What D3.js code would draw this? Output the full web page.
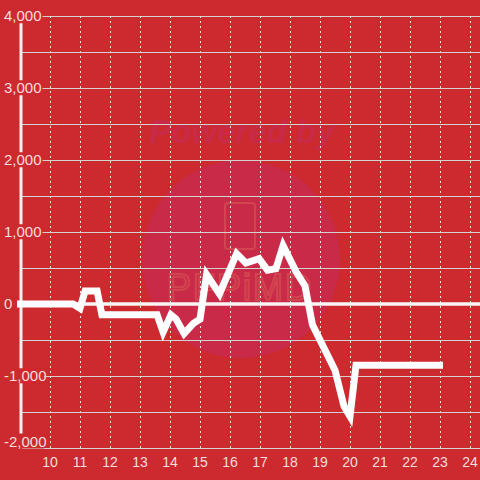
<!DOCTYPE html>
<html>
<head>
<meta charset="utf-8">
<script src="https://cdn.jsdelivr.net/npm/d3@7"></script>
<style>
  body { margin: 0; background: #cc2a2f; }
  svg { display: block; }
  text { font-family: "Liberation Sans", Arial, sans-serif; }
</style>
</head>
<body>
<script>
// Chart data
var xValues = [8.9, 10.77, 11.0, 11.17, 11.57, 11.73, 13.57, 13.77, 14.03, 14.2, 14.47, 14.78, 15.0, 15.22, 15.65,
  16.22, 16.53, 16.97, 17.25, 17.53, 17.77, 18.2, 18.5, 18.75, 19.5, 19.8, 20.0, 20.2, 23.1]
var yValues = [0, 0, -60, 180, 180, -150, -150, -390, -150, -210, -410, -270, -210, 410, 140,
  700, 570, 630, 470, 490, 810, 450, 250, -290, -920, -1420, -1560, -850, -850]
var xTicks = [10, 11, 12, 13, 14, 15, 16, 17, 18, 19, 20, 21, 22, 23, 24]
var yTicks = [-2000, -1000, 0, 1000, 2000, 3000, 4000]
var yGrid = [-2000, -1500, -1000, -500, 500, 1000, 1500, 2000, 2500, 3000, 3500, 4000]

var W = 480, H = 480
var bg = "#cc2a2f"
var labelColor = "#f6dede"

var x = d3.scaleLinear().domain([10, 24]).range([50, 470])
var y = d3.scaleLinear().domain([-2000, 4000]).range([448, 16])

var svg = d3.select("body").append("svg")
  .attr("width", W)
  .attr("height", H)

svg.append("rect").attr("width", W).attr("height", H).attr("fill", bg)

// watermark
svg.append("circle")
  .attr("cx", 241).attr("cy", 259).attr("r", 99)
  .attr("fill", "#c92a48")
svg.append("text")
  .attr("x", 242).attr("y", 143)
  .attr("text-anchor", "middle")
  .attr("font-size", 33)
  .attr("font-weight", "bold")
  .attr("font-style", "italic")
  .attr("fill", "#c92a48")
  .text("Powered by")
svg.append("rect")
  .attr("x", 225).attr("y", 203).attr("width", 30).attr("height", 46)
  .attr("rx", 3)
  .attr("fill", "none").attr("stroke", "#d2444f").attr("stroke-width", 2)
svg.append("text")
  .attr("x", 240).attr("y", 300)
  .attr("text-anchor", "middle")
  .attr("font-size", 36)
  .attr("font-family", "DejaVu Sans Mono")
  .attr("letter-spacing", 2)
  .attr("fill", "none").attr("stroke", "#d2444f").attr("stroke-width", 2)
  .text("PFPiMD")

// horizontal grid
svg.selectAll(".hgrid")
  .data(yGrid)
  .enter().append("line")
  .attr("class", "hgrid")
  .attr("x1", 22).attr("x2", W)
  .attr("y1", function(d) { return y(d) + 0.5 })
  .attr("y2", function(d) { return y(d) + 0.5 })
  .attr("stroke", "#d6d0d0")
  .attr("stroke-width", 1)

// vertical dashed grid
svg.selectAll(".vgrid")
  .data(xTicks)
  .enter().append("line")
  .attr("class", "vgrid")
  .attr("x1", function(d) { return x(d) + 0.5 })
  .attr("x2", function(d) { return x(d) + 0.5 })
  .attr("y1", 16).attr("y2", 448)
  .attr("stroke", "#f0e0e0")
  .attr("stroke-dasharray", "2,3")

// x axis line
svg.append("line")
  .attr("x1", 45).attr("x2", W)
  .attr("y1", 448.5).attr("y2", 448.5)
  .attr("stroke", "#d6d0d0")

// y axis line
svg.append("line")
  .attr("x1", 21).attr("x2", 21)
  .attr("y1", 16).attr("y2", 448)
  .attr("stroke", "#f4f0f0")
  .attr("stroke-width", 3)

// zero line
svg.append("line")
  .attr("x1", 17).attr("x2", W)
  .attr("y1", y(0)).attr("y2", y(0))
  .attr("stroke", "#fbf6f6")
  .attr("stroke-width", 3.5)

// y tick labels with background to cut the axis line
var yl = svg.selectAll(".ylab")
  .data(yTicks)
  .enter().append("g")
  .attr("class", "ylab")
  .attr("transform", function(d) { return "translate(4," + y(d) + ")" })
yl.append("text")
  .attr("dy", function(d) { return d == -2000 ? "-0.1em" : "0.35em" })
  .attr("font-size", 15)
  .attr("fill", labelColor)
  .text(function(d) { return d3.format(",")(d).replace("−", "-") })
yl.each(function(d) {
  var g = d3.select(this)
  var b = g.select("text").node().getBBox()
  g.insert("rect", "text")
    .attr("x", b.x - 1).attr("y", b.y + 1)
    .attr("width", b.width + 2).attr("height", b.height - 2)
    .attr("fill", bg)
  if (d != 0) {
    g.append("line")
      .attr("x1", 40).attr("x2", 45)
      .attr("y1", 0.5).attr("y2", 0.5)
      .attr("stroke", "#d6d0d0")
  }
})

// x tick labels
svg.selectAll(".xlab")
  .data(xTicks)
  .enter().append("text")
  .attr("class", "xlab")
  .attr("x", function(d) { return x(d) })
  .attr("y", 467)
  .attr("text-anchor", "middle")
  .attr("font-size", 14)
  .attr("fill", labelColor)
  .text(function(d) { return d })

// data line
var line = d3.line()
  .x(function(d) { return x(d[0]) })
  .y(function(d) { return y(d[1]) })
svg.append("path")
  .datum(d3.zip(xValues, yValues))
  .attr("d", line)
  .attr("fill", "none")
  .attr("stroke", "#ffffff")
  .attr("stroke-width", 7)
  .attr("stroke-linejoin", "miter")
</script>
</body>
</html>
